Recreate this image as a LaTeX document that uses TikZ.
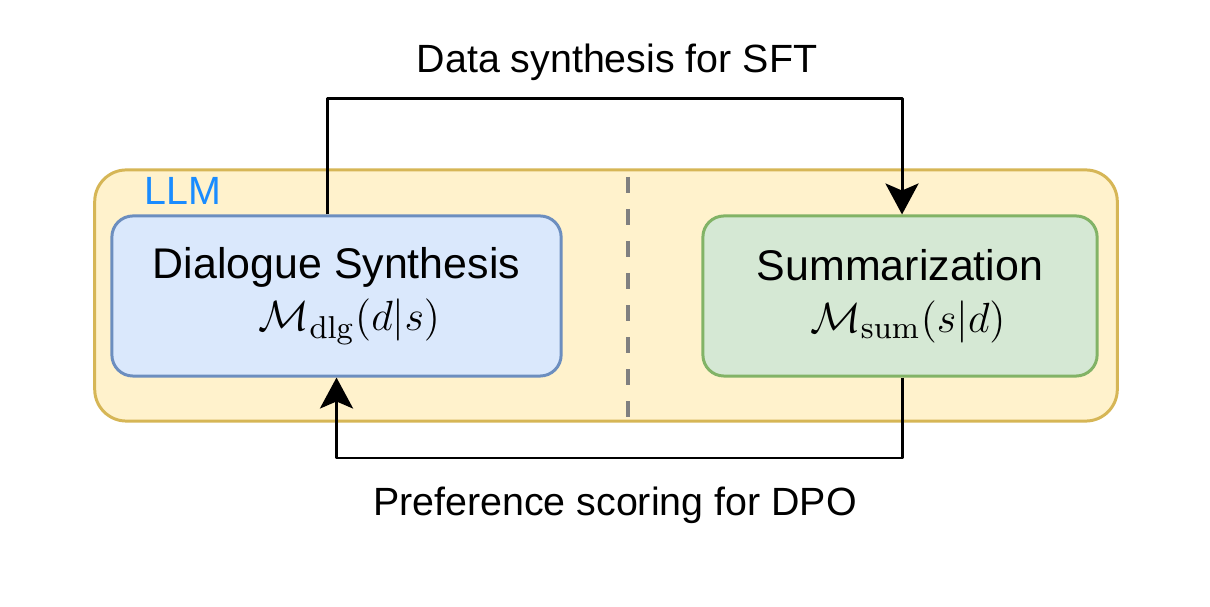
\documentclass[tikz,border=0pt]{standalone}
\usepackage[no-math]{fontspec}
\setmainfont{Liberation Sans}
\usetikzlibrary{arrows.meta,positioning}
\definecolor{llmfill}{HTML}{FFF2CC}
\definecolor{llmdraw}{HTML}{D6B656}
\definecolor{llmtext}{HTML}{1A8CFF}
\definecolor{dlgfill}{HTML}{DAE8FC}
\definecolor{dlgdraw}{HTML}{6C8EBF}
\definecolor{sumfill}{HTML}{D5E8D4}
\definecolor{sumdraw}{HTML}{82B366}
\tikzset{
  modelbox/.style={draw, line width=0.85pt, rounded corners=6pt, minimum height=1.6cm, align=center,
    font=\fontsize{12.2}{14.8}\selectfont},
  flowline/.style={line width=0.85pt, ->},
  lbl/.style={font=\fontsize{11.2}{13}\selectfont}
}
\begin{document}
\begin{tikzpicture}[x=0.01cm, y=-0.01cm, line join=round, >={Stealth[length=8.8pt,width=9.4pt,inset=2pt]}]
  \useasboundingbox (0,0) rectangle (1210,607);
  % outer LLM box
  \node[draw=llmdraw, fill=llmfill, line width=0.85pt, rounded corners=9pt,
        minimum width=10.22cm, minimum height=2.51cm] (llm) at (606,295.5) {};
  \node[lbl, text=llmtext] (llmname) at (183,191) {LLM};
  \draw[gray, line width=1.4pt, dash pattern=on 4.55pt off 4.55pt] (628,177) -- (628,418);
  % the two roles
  \node[modelbox, draw=dlgdraw, fill=dlgfill, minimum width=4.49cm] (dlg) at (336.5,296)
    {Dialogue Synthesis\\\hspace*{7.4pt}$\mathcal{M}_{\mathrm{dlg}}(d|s)$};
  \node[modelbox, draw=sumdraw, fill=sumfill, minimum width=3.94cm] (sum) at (900,296)
    {Summarization\\\hspace*{4.5pt}$\mathcal{M}_{\mathrm{sum}}(s|d)$};
  % connections
  \coordinate (dlgout) at ([xshift=-0.09cm]dlg.north);
  \coordinate (sumin) at ([xshift=0.02cm]sum.north);
  \coordinate (sumout) at ([xshift=0.02cm]sum.south);
  \draw[flowline] (dlgout) |- (617,99) -| (sumin);
  \draw[flowline] (sumout) |- (617,458) -| (dlg.south);
  \node[lbl] (sft) at (617,62) {Data synthesis for SFT};
  \node[lbl] (dpo) at (615,505) {Preference scoring for DPO};
\end{tikzpicture}
\end{document}
